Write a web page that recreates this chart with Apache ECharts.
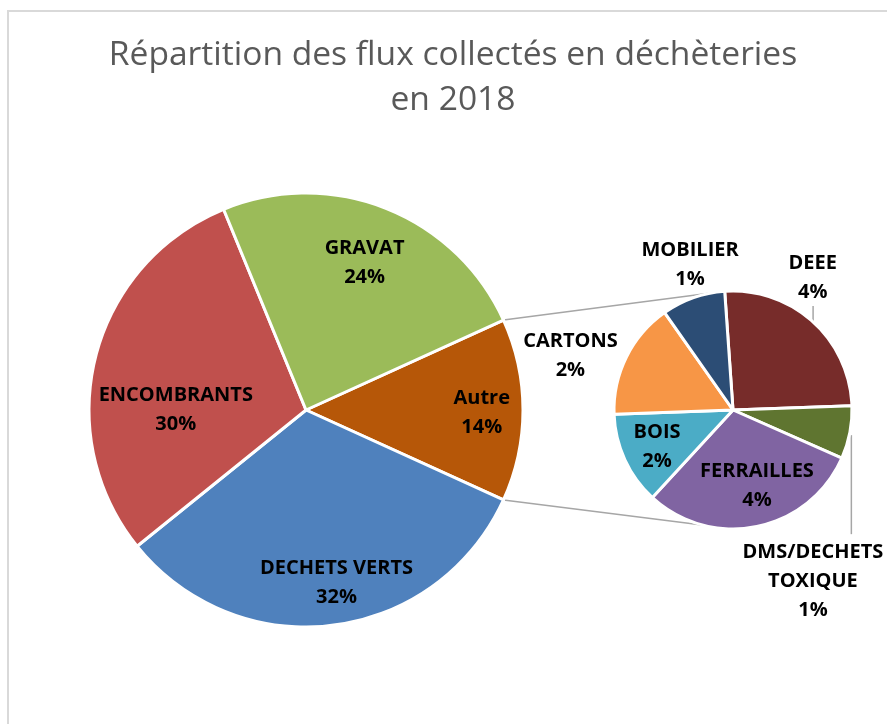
<!DOCTYPE html>
<html>
<head>
<meta charset="utf-8">
<script src="https://cdn.jsdelivr.net/npm/echarts@6/dist/echarts.min.js"></script>
<style>
  html, body { margin: 0; padding: 0; background: #fff; }
  #chart { width: 887px; height: 724px; }
</style>
</head>
<body>
<div id="chart"></div>
<script>
'use strict'

// main pie, clockwise from the top edge of "Autre"
const mainNames = ['Autre', 'DECHETS VERTS', 'ENCOMBRANTS', 'GRAVAT'];
const mainValues = [13.6, 32.4, 29.6, 24.4];
const mainColors = ['#B65708', '#4F81BD', '#C0504D', '#9BBB59'];

// detail of "Autre", clockwise from the MOBILIER / DEEE edge
const subNames = ['DEEE', 'DMS/DECHETS TOXIQUE', 'FERRAILLES', 'BOIS', 'CARTONS', 'MOBILIER'];
const subValues = [3.55, 1.0, 4.2, 1.75, 2.2, 1.2];
const subColors = ['#772C2A', '#5F7530', '#8064A2', '#4BACC6', '#F79646', '#2C4D75'];

// layout
const MAIN = {cx: 306, cy: 410, r: 217};
const SUB = {cx: 733, cy: 410, r: 119};
const SUB_START = 94;
// label placement as [angle in degrees, fraction of radius]
const mainLabelPos = [[-1, 0.81], [280, 0.81], [180, 0.6], [68.3, 0.73]];
const subLabelPos = [[59, 1.30], [295, 1.59], [287.5, 0.67], [206, 0.71], [161.6, 1.44], [106.5, 1.27]];

function polar(c, angle, radius) {
  const a = angle * Math.PI / 180;
  return [c.cx + radius * Math.cos(a), c.cy - radius * Math.sin(a)];
}

const mainTotal = mainValues.reduce((a, b) => a + b, 0);
const mainStart = mainValues[0] / mainTotal * 180;

const labelStyle = {
  show: true,
  position: 'inside',
  color: '#000',
  fontFamily: 'Open Sans',
  fontWeight: 'bold',
  fontSize: 20,
  lineHeight: 29,
  formatter: (p) => p.name.replace(' TOXIQUE', '\nTOXIQUE') + '\n' + Math.round(p.value) + '%'
};

const lineStyle = {stroke: '#A6A6A6', lineWidth: 1.5};
const topA = polar(MAIN, mainStart, MAIN.r);
const botA = polar(MAIN, -mainStart, MAIN.r);
const topB = polar(SUB, 95, SUB.r);
const botB = polar(SUB, 255, SUB.r);

// leader lines of the two outside labels
const deeeEdge = polar(SUB, 47.7, SUB.r);
const dmsEdge = polar(SUB, -12, SUB.r + 2);

const chart = echarts.init(document.getElementById('chart'), null, {renderer: 'canvas'});
chart.setOption({
  animation: false,
  backgroundColor: '#fff',
  title: {
    text: 'Répartition des flux collectés en déchèteries\nen 2018',
    left: 453,
    top: 33,
    padding: 0,
    textAlign: 'center',
    textStyle: {
      color: '#595959',
      fontFamily: 'Open Sans',
      fontWeight: 'normal',
      fontSize: 33.6,
      lineHeight: 45
    }
  },
  graphic: [
    {type: 'rect', z: -10, shape: {x: 8, y: 11, width: 900, height: 800},
      style: {fill: 'none', stroke: '#D9D9D9', lineWidth: 2}},
    {type: 'line', z: -5, shape: {x1: topA[0], y1: topA[1], x2: topB[0], y2: topB[1]}, style: lineStyle},
    {type: 'line', z: -5, shape: {x1: botA[0], y1: botA[1], x2: botB[0], y2: botB[1]}, style: lineStyle},
    {type: 'line', z: -5, shape: {x1: deeeEdge[0], y1: deeeEdge[1], x2: deeeEdge[0], y2: deeeEdge[1] - 16}, style: lineStyle},
    {type: 'line', z: -5, shape: {x1: dmsEdge[0], y1: dmsEdge[1], x2: dmsEdge[0], y2: dmsEdge[1] + 99}, style: lineStyle}
  ],
  series: [
    {
      type: 'pie',
      center: [MAIN.cx, MAIN.cy],
      radius: MAIN.r,
      startAngle: mainStart,
      clockwise: true,
      avoidLabelOverlap: false,
      itemStyle: {borderColor: '#fff', borderWidth: 3},
      label: labelStyle,
      labelLine: {show: false},
      emphasis: {disabled: true},
      labelLayout: (p) => {
        const pos = polar(MAIN, mainLabelPos[p.dataIndex][0], MAIN.r * mainLabelPos[p.dataIndex][1]);
        return {x: pos[0], y: pos[1]};
      },
      data: mainNames.map((n, i) => ({name: n, value: mainValues[i], itemStyle: {color: mainColors[i]}}))
    },
    {
      type: 'pie',
      center: [SUB.cx, SUB.cy],
      radius: SUB.r,
      startAngle: SUB_START,
      clockwise: true,
      avoidLabelOverlap: false,
      itemStyle: {borderColor: '#fff', borderWidth: 3},
      label: labelStyle,
      labelLine: {show: false},
      emphasis: {disabled: true},
      labelLayout: (p) => {
        const pos = polar(SUB, subLabelPos[p.dataIndex][0], SUB.r * subLabelPos[p.dataIndex][1]);
        return {x: pos[0], y: pos[1]};
      },
      data: subNames.map((n, i) => ({name: n, value: subValues[i], itemStyle: {color: subColors[i]}}))
    }
  ]
});
</script>
</body>
</html>
